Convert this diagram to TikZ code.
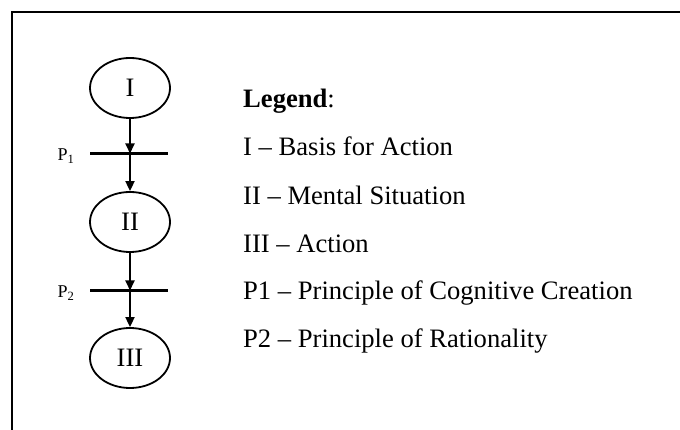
\documentclass[tikz,border=0pt]{standalone}
\usepackage{fontspec}
\setmainfont{Liberation Serif}
\usetikzlibrary{arrows.meta,shapes.geometric}
\begin{document}
\begin{tikzpicture}[x=1pt,y=-1pt,
  state/.style={draw,line width=1.8pt,ellipse,minimum width=80pt,minimum height=60pt,inner sep=0pt,font=\fontsize{26.6}{30}\selectfont},
  flow/.style={line width=1.8pt,-{Triangle[length=10pt,width=9pt]}},
  bar/.style={line width=2.2pt},
  plabel/.style={anchor=base,inner sep=0pt,font=\fontsize{18}{20}\selectfont},
  legend/.style={anchor=base west,inner sep=0pt,font=\fontsize{26.6}{30}\selectfont}]
\useasboundingbox (0,0) rectangle (680,430);
% frame
\draw[line width=2.2pt] (12,431) -- (12,12) -- (681,12);
% states
\node[state] (s1) at (130,88) {I};
\node[state] (s2) at (130,222) {II};
\node[state] (s3) at (130,358) {III};
% principle bars
\coordinate (b1l) at (90,153.5);
\coordinate (b1r) at (168,153.5);
\coordinate (b1) at (130,153.5);
\coordinate (b2l) at (90,290.5);
\coordinate (b2r) at (168,290.5);
\coordinate (b2) at (130,290.5);
\draw[bar] (b1l) -- (b1r);
\draw[bar] (b2l) -- (b2r);
\node[plabel] (p1) at (66,160.5) {P\textsubscript{1}};
\node[plabel] (p2) at (66,297.5) {P\textsubscript{2}};
% transitions
\draw[flow] (s1) -- (b1);
\draw[flow] (b1) -- (s2);
\draw[flow] (s2) -- (b2);
\draw[flow] (b2) -- (s3);
% legend
\node[legend] (lg) at (243,108) {\textbf{Legend}:};
\node[legend] (l1) at (243,155.5) {I – Basis for Action};
\node[legend] (l2) at (243,205) {II – Mental Situation};
\node[legend] (l3) at (243,252.5) {III – Action};
\node[legend] (l4) at (243,300) {P1 – Principle of Cognitive Creation};
\node[legend] (l5) at (243,348) {P2 – Principle of Rationality};
\end{tikzpicture}
\end{document}
